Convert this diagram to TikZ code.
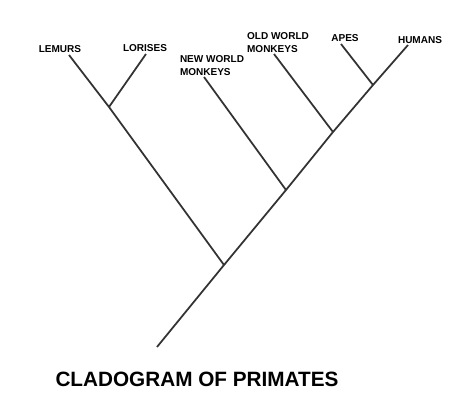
\documentclass[tikz,border=0pt]{standalone}
\usepackage{fontspec}
\setmainfont{Liberation Sans}
\tikzset{
	branch/.style={draw=black!80, line width=1pt},
	taxon/.style={font=\bfseries\fontsize{5.7}{7.4}\selectfont, inner sep=0pt, align=left},
}
\begin{document}
\begin{tikzpicture}
	\useasboundingbox (0,0) rectangle (9,8.12);

	% joins on the main line
	\coordinate (root) at (3.14,1.18);
	\coordinate (j1) at (4.48,2.82);
	\coordinate (jl) at (2.18,5.98);
	\coordinate (j2) at (5.72,4.32);
	\coordinate (j3) at (6.66,5.48);
	\coordinate (j4) at (7.46,6.42);

	% tips
	\coordinate (tlem) at (1.38,7.02);
	\coordinate (tlor) at (2.92,7.04);
	\coordinate (tnwm) at (4.08,6.58);
	\coordinate (towm) at (5.48,7.04);
	\coordinate (tape) at (6.82,7.24);
	\coordinate (thum) at (8.16,7.22);

	\node[taxon] (lemurs) at (1.20,7.14) {LEMURS};
	\node[taxon] (lorises) at (2.90,7.16) {LORISES};
	\node[taxon] (nwm) at (4.24,6.80) {NEW WORLD\\MONKEYS};
	\node[taxon] (owm) at (5.56,7.26) {OLD WORLD\\MONKEYS};
	\node[taxon] (apes) at (6.90,7.36) {APES};
	\node[taxon] (humans) at (8.40,7.32) {HUMANS};

	\draw[branch] (root) -- (j1) -- (j2) -- (j3) -- (j4) -- (thum);
	\draw[branch] (j1) -- (jl) -- (tlem);
	\draw[branch] (jl) -- (tlor);
	\draw[branch] (j2) -- (tnwm);
	\draw[branch] (j3) -- (towm);
	\draw[branch] (j4) -- (tape);

	\node[font=\bfseries\fontsize{11.8}{14}\selectfont, inner sep=0pt] (title) at (3.94,0.54) {CLADOGRAM OF PRIMATES};
\end{tikzpicture}
\end{document}
